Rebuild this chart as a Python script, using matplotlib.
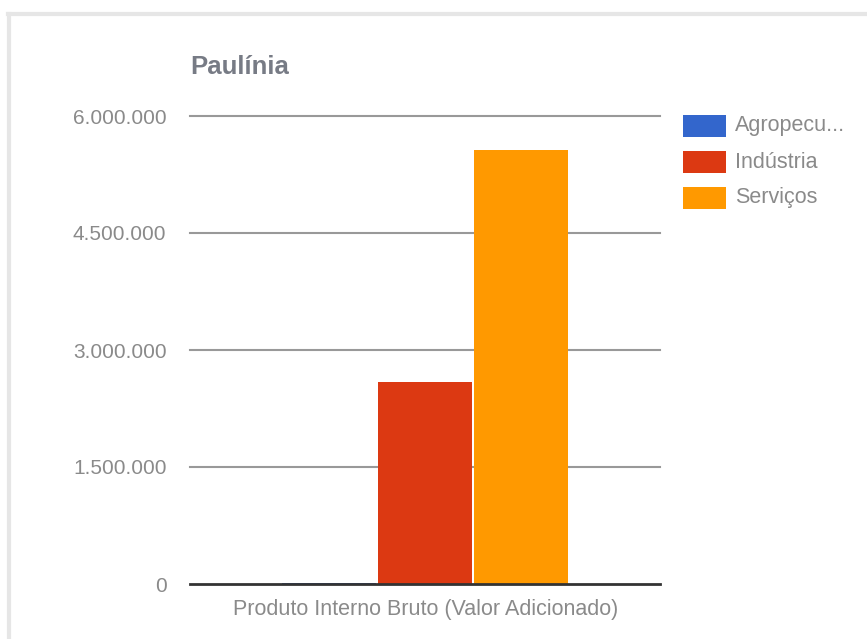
import matplotlib
matplotlib.use('Agg')
import matplotlib.pyplot as plt
from matplotlib.lines import Line2D
from matplotlib.patches import Rectangle

plt.rcParams['font.family'] = ['Liberation Sans', 'DejaVu Sans']

# PIB por setor (valor adicionado), Paulínia
setores = ['Agropecu...', 'Indústria', 'Serviços']
valores = [9000, 2585000, 5560000]
cores = ['#3366cc', '#dc3912', '#ff9900']
categoria = 'Produto Interno Bruto (Valor Adicionado)'
yticks = [0, 1500000, 3000000, 4500000, 6000000]
titulo = 'Paulínia'

W, H = 867, 639
fig = plt.figure(figsize=(W/100, H/100), dpi=100)

# moldura cinza clara (topo e esquerda)
fig.add_artist(Line2D([8/W, 1], [1-14/H, 1-14/H], color='#e6e6e6', lw=3, transform=fig.transFigure))
fig.add_artist(Line2D([9/W, 9/W], [0, 1-14/H], color='#e6e6e6', lw=3, transform=fig.transFigure))
for xm in [334, 583]:
    fig.add_artist(Rectangle((xm/W - 1/W, 1-15/H), 2/W, 2/H, color='#7a7f8a',
                             transform=fig.transFigure, lw=0))

ax = fig.add_axes([190/W, (H-584)/H, 470/W, (584-116)/H])
ax.set_xlim(-0.5, 0.5)
ax.set_ylim(0, 6000000)

for y in yticks[1:]:
    ax.axhline(y, color='#999999', lw=1.5, zorder=1, clip_on=False)

larg = 0.2
passo = 0.2043
for i, (s, v, c) in enumerate(zip(setores, valores, cores)):
    ax.bar((i-1)*passo, v, width=larg, color=c, zorder=2, label=s)

ax.axhline(0, color='#333333', lw=2, zorder=3, clip_on=False)

for s in ax.spines.values():
    s.set_visible(False)
ax.set_xticks([])
ax.set_yticks(yticks)
ax.set_yticklabels([f'{t:,}'.replace(',', '.') for t in yticks])
ax.tick_params(axis='y', length=0, pad=17, labelsize=15, labelcolor='#8a8a8a')

fig.text(426/W, 1-609/H, categoria, ha='center', va='center', fontsize=15.5, color='#8a8a8a')
fig.text(190/W, 1-67/H, titulo, ha='left', va='center', fontsize=18.5, fontweight='bold', color='#777b85')

# legenda à direita
for i, (s, c) in enumerate(zip(setores, cores)):
    yc = 126 + i*36
    fig.add_artist(Rectangle((683/W, 1-(yc+11)/H), 43/W, 22/H, color=c, lw=0,
                             transform=fig.transFigure))
    fig.text(735/W, 1-yc/H, s, ha='left', va='center', fontsize=15.5, color='#8a8a8a')

fig.savefig('out.png', dpi=100)
